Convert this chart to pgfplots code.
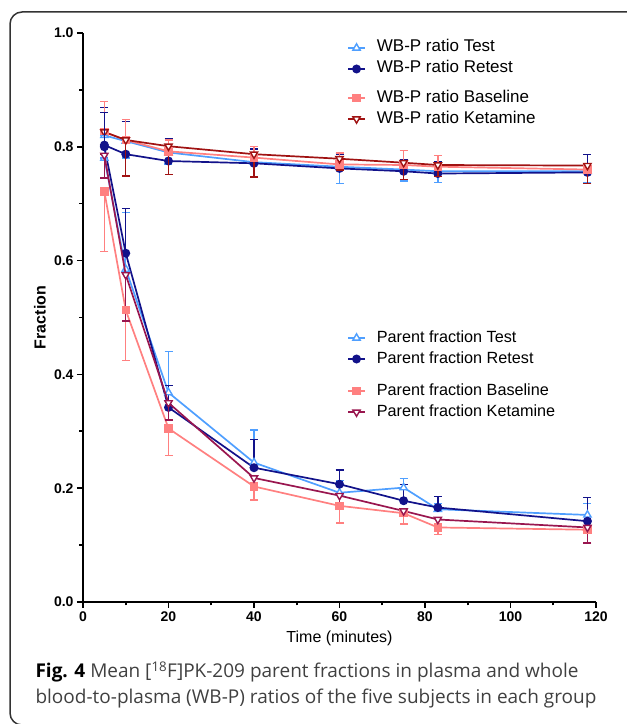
\documentclass[border=0pt]{standalone}
\usepackage{fontspec}
\setmainfont{Liberation Sans}
\newfontfamily\capfont{Open Sans}
\usepackage{pgfplots}
\pgfplotsset{compat=1.18}
\definecolor{ctest}{HTML}{4F9FFF}
\definecolor{cretest}{HTML}{12128A}
\definecolor{cbase}{HTML}{FF8080}
\definecolor{cketw}{HTML}{A01212}
\definecolor{cketp}{HTML}{99164F}
\definecolor{capgray}{HTML}{404040}

\pgfplotsset{
  base/.style={at={(83pt,122pt)}, anchor=south west, scale only axis,
    width=513pt, height=569pt, xmin=0, xmax=120, ymin=0, ymax=1, clip=false,
    legend style={draw=none, fill=none, inner sep=0pt, row sep=5pt,
      font=\fontsize{16.2}{16.2}\selectfont, legend cell align=left,
      nodes={inner xsep=0pt, inner ysep=0pt, text height=12pt, text depth=4pt},
      /tikz/every odd column/.append style={column sep=11pt}},
    legend image code/.code={\draw[mark repeat=2,mark phase=2] plot coordinates {(0pt,0pt) (8.5pt,0pt) (17pt,0pt)};}},
  eb/.style={error bars/.cd, y dir=#1, y explicit,
    error bar style={line width=1.4pt},
    error mark options={rotate=90, mark size=4pt, line width=1.4pt}},
  stest/.style={color=ctest, line width=1.7pt, mark=triangle*, mark options={fill=white, mark size=4.2pt, line width=1.4pt}},
  sretest/.style={color=cretest, line width=1.7pt, mark=*, mark options={mark size=3.6pt}},
  sbase/.style={color=cbase, line width=1.7pt, mark=square*, mark options={mark size=3.4pt}},
  sketw/.style={color=cketw, line width=1.7pt, mark=triangle*, mark options={fill=white, rotate=180, mark size=4.2pt, line width=1.4pt}},
  sketp/.style={color=cketp, line width=1.7pt, mark=triangle*, mark options={fill=white, rotate=180, mark size=4.2pt, line width=1.4pt}},
}

\begin{document}
\begin{tikzpicture}[x=1pt,y=1pt]
\path[use as bounding box] (0,0) rectangle (627,724);
\draw[line width=1.5pt, black!80, rounded corners=12pt] (640,712) -- (10,712) -- (10,-1) -- (40,-1);

% axes, ticks and the WB-P Test/Retest pair
\begin{axis}[base,
  axis x line*=bottom, axis y line*=left,
  axis line style={line width=1.6pt},
  every tick/.style={black, line width=1.6pt},
  tick align=outside, major tick length=6pt, minor tick length=3.5pt,
  xtick={0,20,...,120}, ytick={0,0.2,...,1.0},
  minor x tick num=1, minor y tick num=1,
  /pgf/number format/assume math mode=true,
  yticklabel style={/pgf/number format/.cd, fixed, fixed zerofill, precision=1},
  tick label style={font=\fontsize{14}{14}\selectfont\bfseries},
  xlabel={Time (minutes)}, ylabel={\bfseries Fraction},
  label style={font=\fontsize{16}{16}\selectfont},
  x label style={at={(axis description cs:0.5,-0.0645)}, anchor=center},
  y label style={at={(axis description cs:-0.0838,0.5)}, anchor=center},
  legend style={at={(axis description cs:0.5146,0.9552)}, anchor=west,
    font=\fontsize{17}{17}\selectfont},
]
\addplot+[stest, eb=minus] table[x=t, y=v, y error=e] {
t v e
5 0.820 0.040
10 0.810 0.030
20 0.790 0.020
40 0.773 0.025
60 0.765 0.030
75 0.760 0.020
83 0.757 0.020
118 0.757 0.020
};
\addlegendentry{WB-P ratio Test}
\addplot+[sretest, eb=plus] table[x=t, y=v, y error=e] {
t v e
5 0.803 0.066
10 0.787 0.057
20 0.775 0.040
40 0.771 0.025
60 0.762 0.025
75 0.757 0.020
83 0.753 0.020
118 0.755 0.031
};
\addlegendentry{WB-P ratio Retest}
\end{axis}

\begin{axis}[base, hide axis,
  legend style={at={(axis description cs:0.5146,0.8673)}, anchor=west,
    font=\fontsize{17}{17}\selectfont}]
\addplot+[sbase, eb=plus] table[x=t, y=v, y error=e] {
t v e
5 0.826 0.054
10 0.812 0.036
20 0.792 0.020
40 0.781 0.020
60 0.769 0.020
75 0.768 0.025
83 0.765 0.020
118 0.760 0.010
};
\addlegendentry{WB-P ratio Baseline}
\addplot+[sketw, eb=minus] table[x=t, y=v, y error=e] {
t v e
5 0.826 0.040
10 0.812 0.063
20 0.801 0.050
40 0.787 0.040
60 0.779 0.020
75 0.772 0.030
83 0.768 0.020
118 0.767 0.032
};
\addlegendentry{WB-P ratio Ketamine}
\end{axis}

\begin{axis}[base, hide axis,
  legend style={at={(axis description cs:0.5146,0.4455)}, anchor=west}]
\addplot+[stest, eb=plus] table[x=t, y=v, y error=e] {
t v e
5 0.780 0.040
10 0.585 0.100
20 0.368 0.072
40 0.245 0.057
60 0.192 0.022
75 0.201 0.016
83 0.163 0.010
118 0.153 0.020
};
\addlegendentry{Parent fraction Test}
\addplot+[sretest, eb=plus] table[x=t, y=v, y error=e] {
t v e
5 0.800 0.060
10 0.613 0.079
20 0.342 0.038
40 0.236 0.050
60 0.207 0.025
75 0.178 0.029
83 0.166 0.019
118 0.142 0.042
};
\addlegendentry{Parent fraction Retest}
\end{axis}

\begin{axis}[base, hide axis,
  legend style={at={(axis description cs:0.5146,0.352)}, anchor=west}]
\addplot+[sbase, eb=minus] table[x=t, y=v, y error=e] {
t v e
5 0.721 0.105
10 0.513 0.089
20 0.305 0.048
40 0.203 0.024
60 0.169 0.030
75 0.156 0.019
83 0.131 0.012
118 0.127 0.022
};
\addlegendentry{Parent fraction Baseline}
\addplot+[sketp, eb=minus] table[x=t, y=v, y error=e] {
t v e
5 0.785 0.040
10 0.575 0.081
20 0.350 0.030
40 0.218 0.020
60 0.187 0.020
75 0.160 0.010
83 0.145 0.010
118 0.131 0.027
};
\addlegendentry{Parent fraction Ketamine}
\end{axis}

\node[anchor=base west, font=\capfont\fontsize{19}{19}\selectfont, text=capgray] at (32,46)
  {\textcolor{black}{\textbf{Fig. 4}} Mean [\textsuperscript{18}F]PK-209 parent fractions in plasma and whole};
\node[anchor=base west, font=\capfont\fontsize{19}{19}\selectfont, text=capgray] at (32,20)
  {blood-to-plasma (WB-P) ratios of the five subjects in each group};
\end{tikzpicture}
\end{document}
